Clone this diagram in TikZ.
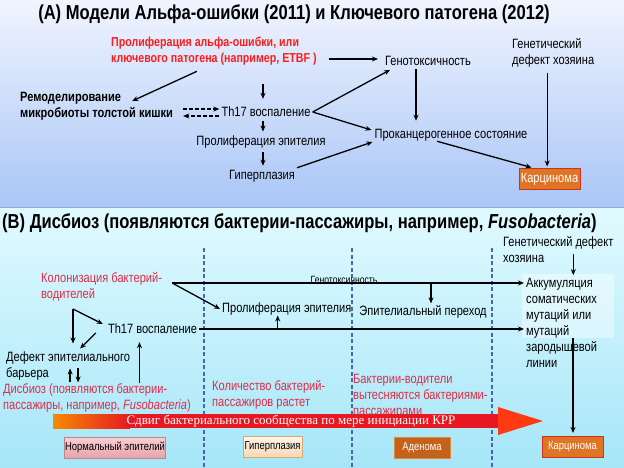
\documentclass[tikz,border=0pt]{standalone}
\usepackage{fontspec}
\setmainfont{Liberation Sans}[FakeStretch=0.82]
\newfontfamily\shiftfont{Liberation Serif}
\usetikzlibrary{arrows.meta, calc}

\definecolor{bgAtop}{HTML}{F0F4FE}
\definecolor{bgAbot}{HTML}{A9C6F6}
\definecolor{bgBtop}{HTML}{E0FAFF}
\definecolor{bgBbot}{HTML}{A6E6F8}
\definecolor{sepline}{HTML}{8FAEE0}
\definecolor{keyred}{HTML}{FF1C1C}
\definecolor{driverred}{HTML}{E02C48}
\definecolor{stageline}{HTML}{4A68A8}
\definecolor{carcfill}{HTML}{DE7424}
\definecolor{carcedge}{HTML}{D0301E}
\definecolor{normtop}{HTML}{F8D0D4}
\definecolor{normbot}{HTML}{E8A2AA}
\definecolor{normedge}{HTML}{B8868C}
\definecolor{hyptop}{HTML}{FEF4E8}
\definecolor{hypbot}{HTML}{F6D8B4}
\definecolor{hypedge}{HTML}{D9A870}
\definecolor{adenfill}{HTML}{C4621C}
\definecolor{adenedge}{HTML}{DA8A40}
\definecolor{barorange}{HTML}{F68A00}
\definecolor{barred}{HTML}{E81822}
\definecolor{barhead}{HTML}{FF3A12}

\begin{document}
\begin{tikzpicture}[x=1pt, y=-1pt,
    every node/.style={inner sep=2pt},
    lbl/.style={font=\fontsize{13.5}{16}\selectfont, align=left},
    boldlbl/.style={lbl, font=\bfseries\fontsize{13.5}{16}\selectfont},
    redlbl/.style={lbl, text=driverred},
    ttl/.style={font=\bfseries\fontsize{20.2}{22}\selectfont},
    smalllbl/.style={font=\fontsize{10.5}{12}\selectfont, inner sep=0pt},
    arr/.style={-{Stealth[length=6pt,width=5pt]}, line width=1.3pt},
    dasharr/.style={arr, dash pattern=on 4pt off 2pt},
    stagesep/.style={stageline, line width=1.2pt, dash pattern=on 4pt off 2.5pt},
    stagebox/.style={draw, line width=1pt, minimum height=21pt, inner sep=1pt,
      font=\fontsize{11.5}{13}\selectfont},
    carcbox/.style={stagebox, fill=carcfill, draw=carcedge, text=white},
  ]
  \useasboundingbox (0,0) rectangle (624,468);
  % backgrounds
  \fill[top color=bgAtop, bottom color=bgAbot] (0,0) rectangle (624,207);
  \fill[top color=bgBtop, bottom color=bgBbot] (0,208) rectangle (624,468);
  \draw[sepline, line width=1.5pt] (0,207.5) -- (624,207.5);
  \foreach \x in {204,352,492}
    \draw[stagesep] (\x,248) -- (\x,468);

  % (A)
  \node[ttl] (titleA) at (294,14) {(A) Модели Альфа-ошибки (2011) и Ключевого патогена (2012)};
  \node[boldlbl, text=keyred, anchor=west, font=\bfseries\fontsize{13}{16}\selectfont] (redA) at (109,51)
    {Пролиферация альфа-ошибки, или\\ключевого патогена (например, ETBF )};
  \node[lbl] (geno) at (428,61) {Генотоксичность};
  \node[lbl, anchor=west] (gendefA) at (510,53) {Генетический\\дефект хозяина};
  \node[boldlbl, anchor=west] (remod) at (18,106) {Ремоделирование\\микробиоты толстой кишки};
  \node[lbl] (th17a) at (266,112) {Th17 воспаление};
  \node[lbl] (prolA) at (261,142) {Пролиферация эпителия};
  \node[lbl] (hypA) at (262,176) {Гиперплазия};
  \node[lbl] (procarc) at (451,135) {Проканцерогенное состояние};
  \node[carcbox, minimum width=61pt, minimum height=20pt, font=\fontsize{13.5}{16}\selectfont]
    (carcA) at (549.5,179) {Карцинома};

  \draw[arr] ($(redA.east |- geno.west)+(10,-2)$) -- ($(geno.west)+(-5,-2)$);
  \draw[arr] ($(redA.south)+(-17,4)$) -- ($(remod.east)+(-43,-5)$);
  \draw[arr] ($(redA.south -| th17a.north)+(-3,17)$) -- ($(th17a.north)+(-3,-6)$);
  \draw[dasharr] ($(remod.east |- th17a.west)+(8,-3)$) -- ($(th17a.west)+(0,-3)$);
  \draw[dasharr] ($(th17a.west)+(0,4)$) -- ($(remod.east |- th17a.west)+(8,4)$);
  \draw[arr, shorten >=2pt] ($(th17a.south)+(-3,2)$) coordinate (t0) -- (t0 |- prolA.north);
  \draw[arr, shorten >=2pt] ($(prolA.south)+(2,2)$) coordinate (t1) -- (t1 |- hypA.north);
  \draw[arr] (th17a.east) -- ($(geno.south west)+(7,2)$);
  \draw[arr] (th17a.east) -- ($(procarc.west)+(-1,-5)$);
  \draw[arr] (hypA.north east) -- ($(procarc.west)+(0,7)$);
  \draw[arr, shorten >=6pt] ($(geno.south)+(-12,1)$) coordinate (g1) -- (g1 |- procarc.north);
  \draw[arr] ($(procarc.south)+(-14,-2)$) -- ($(carcA.north)+(-18,-1)$);
  \draw[arr, shorten >=2pt] ($(gendefA.south)+(-6,3)$) coordinate (g2) -- (g2 |- carcA.north);

  % (B)
  \node[ttl, anchor=west] (titleB) at (0,223)
    {(B) Дисбиоз (появляются бактерии-пассажиры, например, \textit{Fusobacteria})};
  \fill[white, opacity=0.4] (522,274) rectangle (614,338);
  \node[lbl, anchor=west] (gendefB) at (501,250) {Генетический дефект\\хозяина};
  \node[redlbl, anchor=west] (kolon) at (39,287) {Колонизация бактерий-\\водителей};
  \node[lbl, anchor=west] (prolB) at (220,309) {Пролиферация эпителия};
  \node[lbl] (epitrans) at (423,312) {Эпителиальный переход};
  \node[lbl, anchor=west] (akk) at (524,323)
    {Аккумуляция\\соматических\\мутаций или\\мутаций\\зародышевой\\линии};
  \node[lbl] (th17b) at (152.5,329) {Th17 воспаление};
  \node[lbl, anchor=west] (defect) at (4,366) {Дефект эпителиального\\барьера};
  \node[redlbl, anchor=west] (dysb) at (1,398)
    {Дисбиоз (появляются бактерии-\\пассажиры, например, \textit{Fusobacteria})};
  \node[redlbl, anchor=west] (kolich) at (210,395) {Количество бактерий-\\пассажиров растет};
  \node[redlbl, anchor=west] (vytesn) at (351,396)
    {Бактерии-водители\\вытесняются бактериями-\\пассажирами};

  \draw[arr] ($(kolon.east)+(8,-4)$) coordinate (k0) -- (k0 -| akk.west);
  \node[smalllbl] (genoB) at (344,280) {Генотоксичность};
  \draw[arr] (k0) -- (prolB.west);
  \draw[arr] ($(k0 -| epitrans.north)+(8,0)$) -- ($(epitrans.north)+(8,0)$);
  \draw[arr] (th17b.east) -- (th17b.east -| akk.west);
  \draw[arr] ($(th17b.east -| prolB.south)+(-9,0)$) -- ($(prolB.south)+(-9,-2)$);
  \coordinate (tri) at (73,309);
  \draw[arr] (tri) -- ($(th17b.west)+(-3,-5)$);
  \draw[arr] (tri) -- ($(tri |- defect.north)+(0,-6)$);
  \draw[arr] ($(th17b.west)+(-10,4)$) -- ($(defect.north)+(12,-1)$);
  \draw[arr] ($(defect.south)+(2,0)$) coordinate (d0) -- ++(0,-14);
  \draw[arr] ($(d0)+(8,-14)$) -- ++(0,14);
  \draw[arr] ($(dysb.north -| th17b.south)+(-13,2)$) -- ($(th17b.south)+(-13,6)$);
  \draw[arr] ($(gendefB.south)+(15,-11)$) coordinate (g3) -- ($(g3 |- akk.north)+(0,-1)$);

  % shift arrow
  \fill[left color=barorange, right color=barred] (53,414) rectangle (130,428);
  \fill[barred] (129.5,414) rectangle (498,428);
  \fill[barhead] (498,407) -- (543,421) -- (498,435) -- cycle;
  \node[text=white, font=\shiftfont\fontsize{13}{15}\selectfont] (shift) at (291,421)
    {Сдвиг бактериального сообщества по мере инициации КРР};

  % stages
  \node[stagebox, top color=normtop, bottom color=normbot, draw=normedge, minimum width=98pt]
    (normB) at (115,447.5) {Нормальный эпителий};
  \node[stagebox, top color=hyptop, bottom color=hypbot, draw=hypedge, minimum width=59pt]
    (hypB) at (272.5,447) {Гиперплазия};
  \node[stagebox, fill=adenfill, draw=adenedge, text=white, minimum width=56pt]
    (adenB) at (422,447.5) {Аденома};
  \node[carcbox, minimum width=61pt] (carcB) at (572.5,447) {Карцинома};
  \draw[arr] ($(akk.north west)+(49,62)$) coordinate (a0) -- ($(a0 |- carcB.north)+(0,-3)$);
\end{tikzpicture}
\end{document}
